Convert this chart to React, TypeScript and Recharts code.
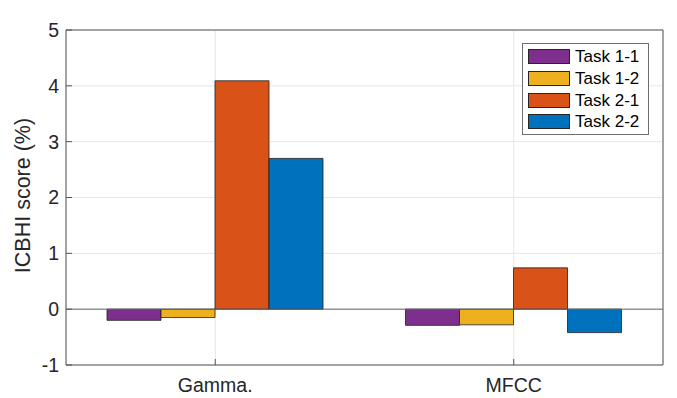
import { Bar, BarChart, CartesianGrid, Legend, ReferenceLine, XAxis, YAxis } from 'recharts';

const categories = ['Gamma.', 'MFCC'];
const task11 = [-0.2, -0.29];
const task12 = [-0.15, -0.28];
const task21 = [4.09, 0.74];
const task22 = [2.7, -0.42];
const yTicks = [-1, 0, 1, 2, 3, 4, 5];

const SERIES = [
  { key: 'task11', name: 'Task 1-1', color: '#7E2F8E' },
  { key: 'task12', name: 'Task 1-2', color: '#EDB120' },
  { key: 'task21', name: 'Task 2-1', color: '#D95319' },
  { key: 'task22', name: 'Task 2-2', color: '#0072BD' },
];

const data = categories.map((name, i) => ({
  name,
  task11: task11[i],
  task12: task12[i],
  task21: task21[i],
  task22: task22[i],
}));

const FONT = '"Liberation Sans", Arial, Helvetica, sans-serif';
const TEXT = '#262626';
const AXIS = '#555555';
const GRID = '#e6e6e6';

function LegendBox({ payload }: { payload?: ReadonlyArray<{ value?: string; color?: string }> }) {
  if (!payload) return null;
  return (
    <div
      style={{
        border: '1px solid #6e6e6e',
        background: '#fff',
        padding: '2px 6px 1px 5px',
        width: 127,
        boxSizing: 'border-box',
        fontFamily: FONT,
      }}
    >
      {payload.map((p) => (
        <div key={p.value} style={{ display: 'flex', alignItems: 'center', height: 21.7 }}>
          <span
            style={{
              width: 42,
              height: 15,
              background: p.color,
              border: '1px solid #262626',
              boxSizing: 'border-box',
              flex: 'none',
            }}
          />
          <span style={{ marginLeft: 5, fontSize: 17, color: '#000', lineHeight: '17px' }}>{p.value}</span>
        </div>
      ))}
    </div>
  );
}

function YLabel({ viewBox }: { viewBox?: { x: number; y: number; width: number; height: number } }) {
  if (!viewBox) return null;
  const cx = viewBox.x + 29.5;
  const cy = viewBox.y + viewBox.height / 2 - 2;
  return (
    <text
      x={cx}
      y={cy}
      transform={`rotate(-90 ${cx} ${cy})`}
      textAnchor="middle"
      fill={TEXT}
      fontSize={21.5}
      fontFamily={FONT}
    >
      ICBHI score (%)
    </text>
  );
}

export default function App() {
  return (
    <div style={{ position: 'absolute', left: 0, top: 0, background: '#fff' }}>
      <BarChart
        width={677}
        height={398}
        data={data}
        margin={{ top: 29, right: 13, bottom: 0, left: 0 }}
        barCategoryGap={41}
        barGap={0}
      >
        <CartesianGrid stroke={GRID} strokeWidth={1} />
        <XAxis
          dataKey="name"
          height={33}
          tickSize={-6}
          tickMargin={19}
          axisLine={{ stroke: AXIS }}
          tickLine={{ stroke: AXIS }}
          tick={{ fontSize: 19.5, fill: TEXT, fontFamily: FONT }}
        />
        <XAxis
          xAxisId="top"
          orientation="top"
          dataKey="name"
          height={1}
          tickSize={-6}
          tick={false}
          axisLine={{ stroke: AXIS }}
          tickLine={{ stroke: AXIS }}
        />
        <YAxis
          width={66}
          domain={[-1, 5]}
          ticks={yTicks}
          interval={0}
          tickSize={-6}
          tickMargin={13}
          axisLine={{ stroke: AXIS }}
          tickLine={{ stroke: AXIS }}
          tick={{ fontSize: 19.5, fill: TEXT, fontFamily: FONT }}
          label={{ content: (props: any) => <YLabel {...props} /> }}
        />
        <YAxis
          yAxisId="right"
          orientation="right"
          width={1}
          domain={[-1, 5]}
          ticks={yTicks}
          interval={0}
          tickSize={-6}
          tick={false}
          axisLine={{ stroke: AXIS }}
          tickLine={{ stroke: AXIS }}
        />
        <ReferenceLine y={0} stroke="#666666" strokeWidth={1} />
        {SERIES.map((s) => (
          <Bar
            key={s.key}
            dataKey={s.key}
            name={s.name}
            fill={s.color}
            stroke="#1f1f1f"
            strokeWidth={0.8}
            isAnimationActive={false}
          />
        ))}
        <Legend
          layout="vertical"
          align="center"
          verticalAlign="middle"
          wrapperStyle={{ left: 522, top: 43, width: 'auto' }}
          content={(props: any) => <LegendBox payload={props.payload} />}
        />
      </BarChart>
    </div>
  );
}
